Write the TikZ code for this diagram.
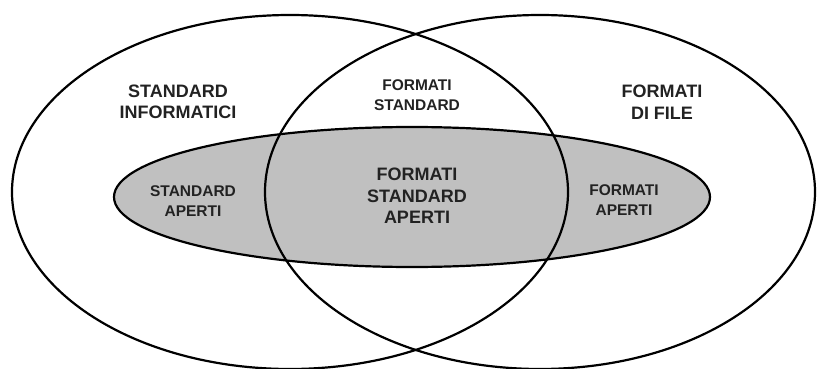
\documentclass[tikz,border=0pt]{standalone}
\usepackage{fontspec}
\setmainfont{Liberation Sans}
\definecolor{grau}{RGB}{192,192,192}
\definecolor{schrift}{RGB}{34,34,34}
\tikzset{
  rand/.style={line width=2.2pt,black},
  gross/.style={font=\fontsize{18}{21.5}\selectfont\bfseries,text=schrift,align=center},
  klein/.style={font=\fontsize{15.5}{19.5}\selectfont\bfseries,text=schrift,align=center}
}
\begin{document}
\begin{tikzpicture}[x=1pt,y=-1pt]
  \useasboundingbox (0,0) rectangle (817,369);
  % Mittelpunkte
  \coordinate (L) at (290,192);
  \coordinate (R) at (540,192);
  \coordinate (M) at (412,197);
  % graue Ellipse
  \fill[grau] (M) ellipse [x radius=298, y radius=70];
  % Umrisse
  \draw[rand] (L) ellipse [x radius=278, y radius=177];
  \draw[rand] (R) ellipse [x radius=275, y radius=177];
  \draw[rand] (M) ellipse [x radius=298, y radius=70];
  % Beschriftungen
  \node[gross] (info) at (178,102) {STANDARD\\INFORMATICI};
  \node[gross] (file) at (662,102) {FORMATI\\DI FILE};
  \node[klein] (fstd) at (417,95) {FORMATI\\STANDARD};
  \node[gross] (fsa) at (417,196) {FORMATI\\STANDARD\\APERTI};
  \node[klein] (sa) at (193,201) {STANDARD\\APERTI};
  \node[klein] (fa) at (624,200) {FORMATI\\APERTI};
\end{tikzpicture}
\end{document}
